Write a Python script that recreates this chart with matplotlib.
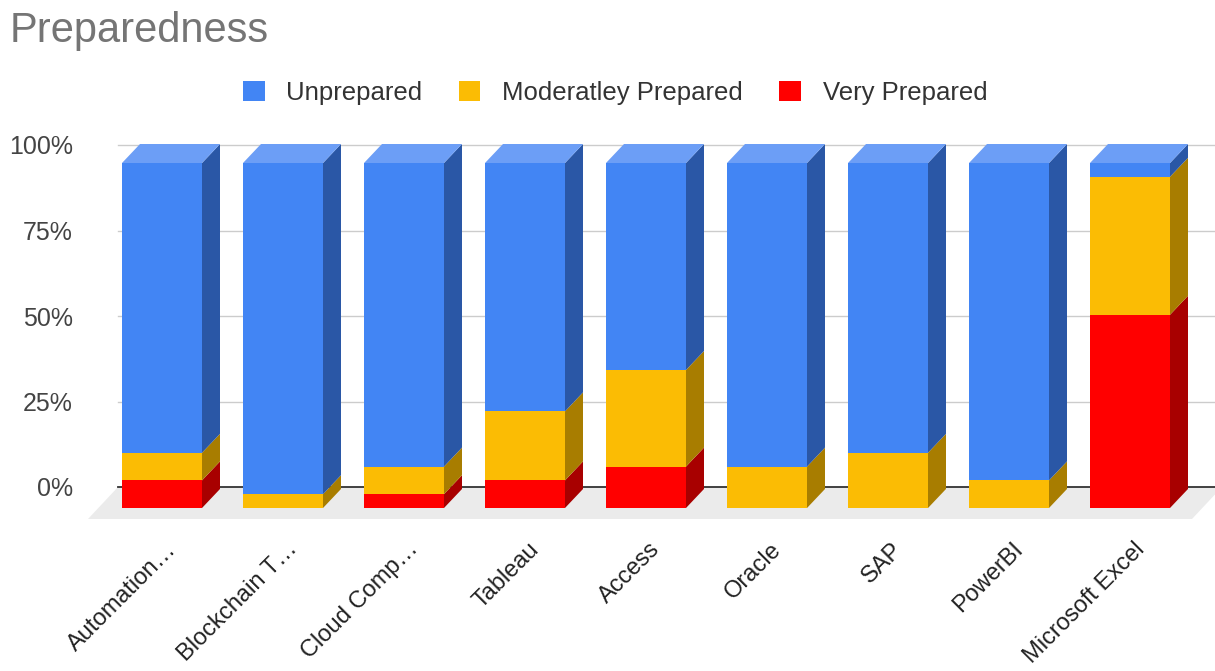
import matplotlib.pyplot as plt
from matplotlib.patches import Polygon, Patch

plt.rcParams['font.family'] = ['Liberation Sans', 'DejaVu Sans']

categories = ["Automation…", "Blockchain T…", "Cloud Comp…", "Tableau", "Access",
              "Oracle", "SAP", "PowerBI", "Microsoft Excel"]
very = [8, 0, 4, 8, 12, 0, 0, 0, 56]
moderately = [8, 4, 8, 20, 28, 12, 16, 8, 40]
unprepared = [84, 96, 88, 72, 60, 88, 84, 92, 4]
series = [("Very Prepared", very), ("Moderatley Prepared", moderately), ("Unprepared", unprepared)]
yticks = [0, 25, 50, 75, 100]

front = {"Unprepared": "#4285F4", "Moderatley Prepared": "#FBBC04", "Very Prepared": "#FF0000"}
side = {"Unprepared": "#2A57A6", "Moderatley Prepared": "#A87D00", "Very Prepared": "#A80000"}
top = {"Unprepared": "#6C9EF6", "Moderatley Prepared": "#FCCB4A", "Very Prepared": "#FF5A5A"}

W, H = 1215, 671
fig = plt.figure(figsize=(W / 100, H / 100), dpi=100)
# axes spans px x 88..1215, y 140..525
ax = fig.add_axes([88 / W, (H - 525) / H, (1215 - 88) / W, (525 - 140) / H])
xs = 121.0   # px per category
ys = 3.45    # px per percent
ax.set_xlim((88 - 162) / xs, (1215 - 162) / xs)
ax.set_ylim((508 - 525) / ys, (508 - 140) / ys)
for s in ax.spines.values():
    s.set_visible(False)

bw = 80 / xs
DX, DY = 18 / xs, 19 / ys

# floor
fl_front, fl_back = (508 - 519) / ys, (508 - 487) / ys
fl_dx = 30 / xs
x0, x1 = (88 - 162) / xs, (1192 - 162) / xs
ax.add_patch(Polygon([(x0, fl_front), (x1, fl_front), (x1 + fl_dx, fl_back), (x0 + fl_dx, fl_back)],
                     closed=True, facecolor="#EBEBEB", edgecolor="none", zorder=0))

# back-wall gridlines
grid_scale = (487 - 145) / 100 / ys
for v in yticks:
    gy = fl_back + v * grid_scale
    ax.plot([x0 + fl_dx, 9], [gy, gy], color="#333333" if v == 0 else "#CCCCCC",
            lw=1.3 if v == 0 else 1, zorder=1)
ax.set_yticks([fl_back + v * grid_scale for v in yticks])
ax.set_yticklabels([f"{v}%" for v in yticks], fontsize=18, color="#444444")
ax.tick_params(axis="y", length=0, pad=11)

# 3D stacked bars
for i in range(len(categories)):
    bottom = 0
    last = None
    for name, vals in series:
        h = vals[i]
        if h <= 0:
            continue
        ax.bar(i, h, bottom=bottom, width=bw, color=front[name], zorder=3)
        r = i + bw / 2
        ax.add_patch(Polygon([(r, bottom), (r + DX, bottom + DY), (r + DX, bottom + h + DY), (r, bottom + h)],
                             closed=True, facecolor=side[name], edgecolor="none", zorder=3))
        bottom += h
        last = name
    l = i - bw / 2
    ax.add_patch(Polygon([(l, bottom), (l + bw, bottom), (l + bw + DX, bottom + DY), (l + DX, bottom + DY)],
                         closed=True, facecolor=top[last], edgecolor="none", zorder=3))

ax.set_xticks([])
for i, c in enumerate(categories):
    ax.text(i + 11 / xs, (508 - 546) / ys, c, rotation=45, rotation_mode="anchor",
            ha="right", va="center", fontsize=17, color="#222222", clip_on=False)

fig.text(10 / W, 1 - 31 / H, "Preparedness", fontsize=30, color="#757575", va="center", ha="left")

handles = [Patch(facecolor=front[n], edgecolor="none") for n in ["Unprepared", "Moderatley Prepared", "Very Prepared"]]
fig.legend(handles, ["Unprepared", "Moderatley Prepared", "Very Prepared"], loc="center",
           bbox_to_anchor=(615 / W, 1 - 93 / H), ncol=3, frameon=False, fontsize=18.5,
           handlelength=0.85, handleheight=0.85, handletextpad=0.85, columnspacing=1.4,
           labelcolor="#333333")

fig.savefig("out.png", dpi=100)
